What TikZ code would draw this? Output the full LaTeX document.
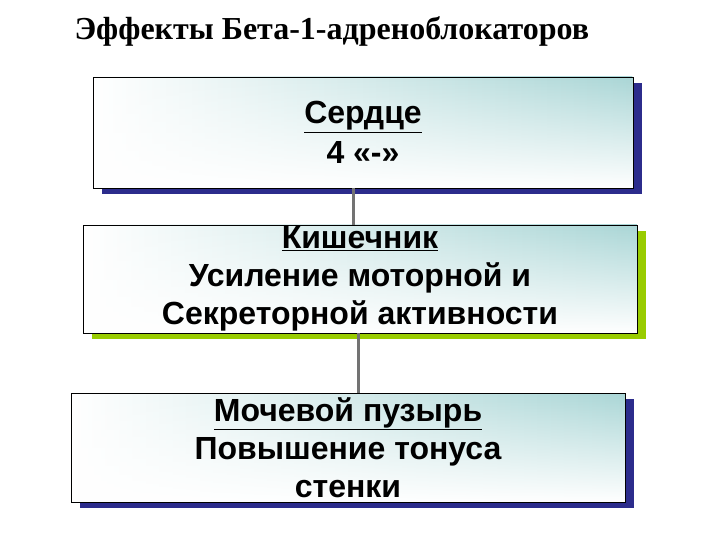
\documentclass[tikz,border=0pt]{standalone}
\usepackage{fontspec}
\setmainfont{Liberation Sans}
\newfontfamily\titlefont{Liberation Serif}
\usetikzlibrary{shadows,fadings}
\definecolor{boxnavy}{RGB}{44,44,140}
\definecolor{boxgreen}{RGB}{153,204,0}
\definecolor{boxteal}{RGB}{170,214,214}

\begin{document}
\begin{tikzpicture}[x=1pt,y=-1pt,
        organ/.style={draw=black,line width=0.8pt,fill=white,align=center,inner sep=0pt,
            font=\bfseries\fontsize{32}{38}\selectfont,
            path picture={\fill[left color=white,right color=boxteal,path fading=south]
                (path picture bounding box.south west) rectangle (path picture bounding box.north east);}},
        navyshadow/.style={drop shadow={shadow xshift=9pt,shadow yshift=-6pt,fill=boxnavy,opacity=1}},
        greenshadow/.style={drop shadow={shadow xshift=9pt,shadow yshift=-6pt,fill=boxgreen,opacity=1}},
        link/.style={draw=gray!90!black,line width=3pt}]
        \useasboundingbox (0,0) rectangle (720,540);

        \node[anchor=base west,font=\titlefont\bfseries\fontsize{32}{36}\selectfont] (title) at (71,40)
            {Эффекты Бета-1-адреноблокаторов};

        \node[organ,navyshadow,minimum width=540pt,minimum height=111pt] (heart) at (363,132.5)
            {\underline{Сердце}\\[2pt]4 «-»};
        \node[organ,greenshadow,minimum width=554pt,minimum height=108pt] (gut) at (360,279)
            {\underline{Кишечник}\\Усиление моторной и\\Секреторной активности};
        \node[organ,navyshadow,minimum width=554pt,minimum height=109pt] (bladder) at (348,447.5)
            {\underline{Мочевой пузырь}\\Повышение тонуса\\стенки};

        \draw[link] ([xshift=-10pt]heart.south) -- ([xshift=-7pt]gut.north);
        \draw[link] ([xshift=-2pt]gut.south) -- ([xshift=10pt]bladder.north);
    \end{tikzpicture}
\end{document}
